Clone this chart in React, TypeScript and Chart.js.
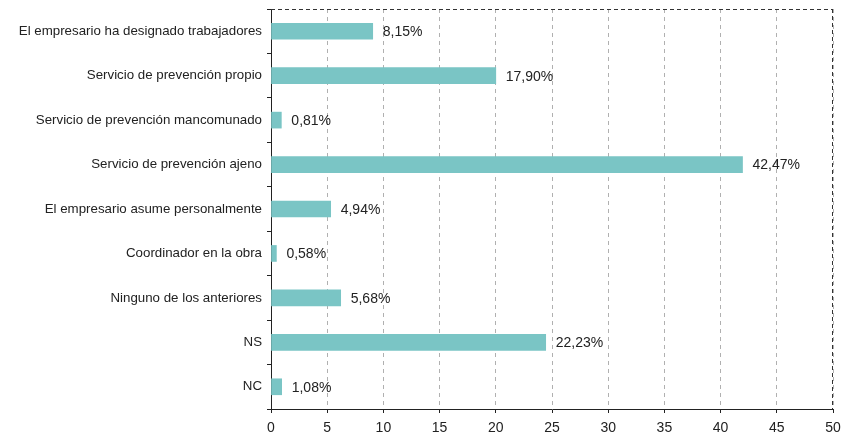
import React, { useEffect, useRef } from "react";
import { Chart, registerables } from "chart.js";

Chart.register(...registerables);

const categories = [
  "El empresario ha designado trabajadores",
  "Servicio de prevención propio",
  "Servicio de prevención mancomunado",
  "Servicio de prevención ajeno",
  "El empresario asume personalmente",
  "Coordinador en la obra",
  "Ninguno de los anteriores",
  "NS",
  "NC",
];
const barValues = [9.05, 20.0, 0.92, 41.95, 5.31, 0.48, 6.2, 24.44, 0.95];
const valueLabels = ["8,15%", "17,90%", "0,81%", "42,47%", "4,94%", "0,58%", "5,68%", "22,23%", "1,08%"];
const xTicks = [0, 5, 10, 15, 20, 25, 30, 35, 40, 45, 50];

const FONT = "'Liberation Sans', Arial, Helvetica, sans-serif";

const labelPlugin = {
  id: "valueLabels",
  afterDatasetsDraw(chart: any) {
    const ctx = chart.ctx;
    const meta = chart.getDatasetMeta(0);
    ctx.save();
    ctx.font = `14px ${FONT}`;
    ctx.fillStyle = "#222";
    ctx.textAlign = "left";
    ctx.textBaseline = "middle";
    meta.data.forEach((bar: any, i: number) => {
      ctx.fillText(valueLabels[i], bar.x + 10, bar.y + 1);
    });
    ctx.restore();
  },
};

const borderPlugin = {
  id: "dashedBorder",
  afterDraw(chart: any) {
    const { ctx, chartArea } = chart;
    ctx.save();
    ctx.strokeStyle = "#333";
    ctx.lineWidth = 1;
    ctx.setLineDash([4, 3]);
    ctx.beginPath();
    ctx.moveTo(chartArea.left, chartArea.top + 0.5);
    ctx.lineTo(chartArea.right, chartArea.top + 0.5);
    ctx.moveTo(chartArea.right - 0.5, chartArea.top);
    ctx.lineTo(chartArea.right - 0.5, chartArea.bottom);
    ctx.stroke();
    ctx.restore();
  },
};

export default function App() {
  const ref = useRef<HTMLCanvasElement>(null);
  useEffect(() => {
    if (!ref.current) return;
    const chart = new Chart(ref.current, {
      type: "bar",
      data: {
        labels: categories,
        datasets: [
          {
            data: barValues,
            backgroundColor: "#7AC5C5",
            borderWidth: 0,
            barThickness: 16,
          },
        ],
      },
      options: {
        indexAxis: "y",
        animation: false,
        responsive: false,
        maintainAspectRatio: false,
        layout: { padding: { left: 0, top: 9, right: 15, bottom: 0 } },
        plugins: { legend: { display: false }, tooltip: { enabled: false } },
        scales: {
          x: {
            min: 0,
            max: 50,
            afterBuildTicks(scale: any) {
              scale.ticks = xTicks.map((v) => ({ value: v }));
            },
            afterFit(scale: any) {
              scale.height = 27;
              scale.paddingLeft = 0;
              scale.paddingRight = 0;
            },
            ticks: {
              color: "#222",
              font: { family: FONT, size: 14 },
              padding: 7,
            },
            grid: {
              color: "#b0b0b0",
              tickColor: "#222",
              tickLength: 4,
              tickBorderDash: [],
            } as any,
            border: { color: "#222", width: 1, dash: [4, 4] },
          },
          y: {
            afterFit(scale: any) {
              scale.width = 271;
              scale.paddingTop = 0;
              scale.paddingBottom = 0;
            },
            ticks: {
              color: "#222",
              font: { family: FONT, size: 13.3 },
              padding: 5,
            },
            grid: {
              drawOnChartArea: false,
              offset: true,
              tickColor: "#222",
              tickLength: 4,
            },
            border: { color: "#222", width: 1 },
          },
        },
      },
      plugins: [labelPlugin, borderPlugin],
    });
    return () => chart.destroy();
  }, []);
  return (
    <canvas
      ref={ref}
      width={848}
      height={436}
      style={{ position: "fixed", left: 0, top: 0, width: 848, height: 436 }}
    />
  );
}
